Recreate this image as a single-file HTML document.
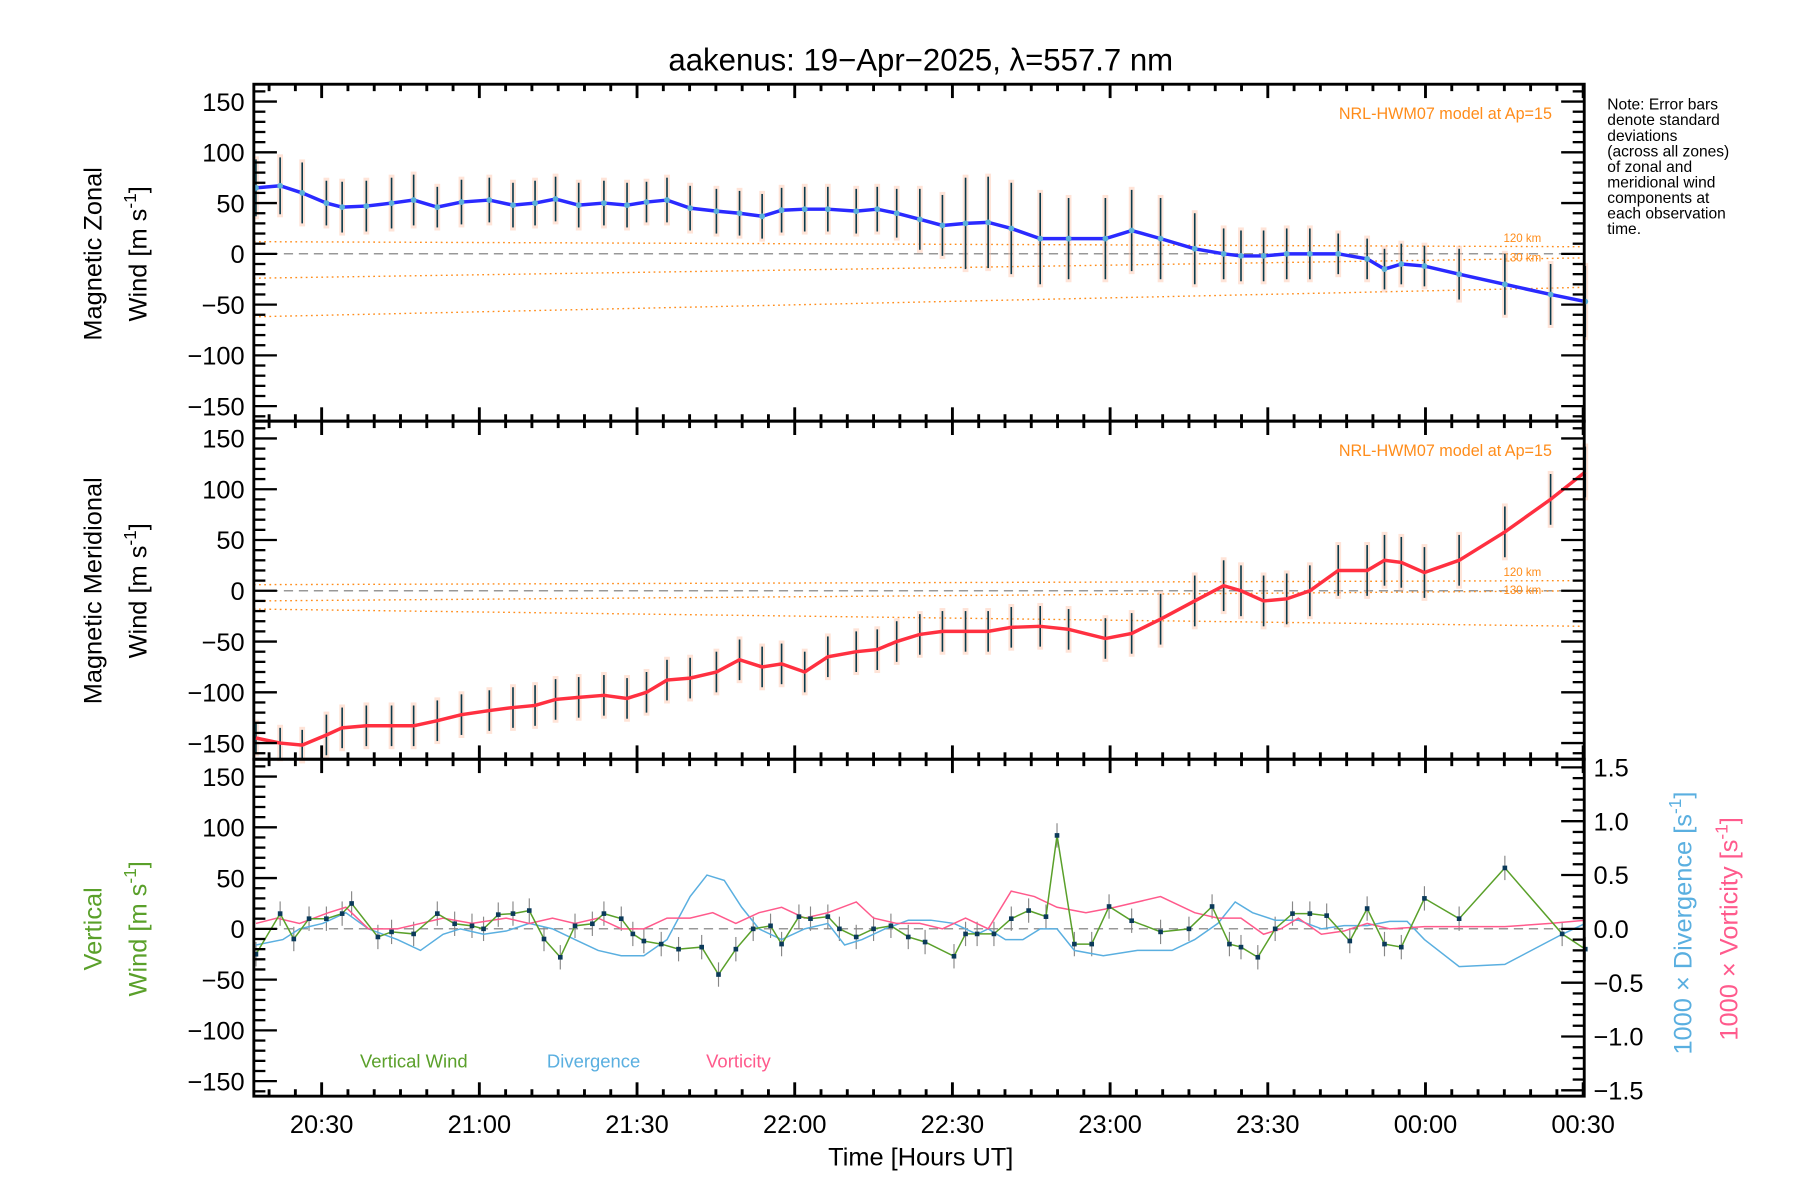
<!DOCTYPE html>
<html><head><meta charset="utf-8"><style>
html,body{margin:0;padding:0;background:#fff;}
svg{display:block;font-family:"Liberation Sans",sans-serif;}
</style></head><body>
<svg id="chart" width="1800" height="1200" viewBox="0 0 1560 1040" xmlns="http://www.w3.org/2000/svg">
<rect width="1560" height="1040" fill="#fff"/>
<text x="798" y="61" font-size="27" text-anchor="middle">aakenus: 19−Apr−2025, λ=557.7 nm</text>
<g id="marks"></g>
<g font-size="13.5">
<text x="1393" y="95">Note: Error bars</text>
<text x="1393" y="108.5">denote standard</text>
<text x="1393" y="122">deviations</text>
<text x="1393" y="135.5">(across all zones)</text>
<text x="1393" y="149">of zonal and</text>
<text x="1393" y="162.5">meridional wind</text>
<text x="1393" y="176">components at</text>
<text x="1393" y="189.5">each observation</text>
<text x="1393" y="203">time.</text>
</g>
<text transform="translate(88,220) rotate(-90)" font-size="22" text-anchor="middle">Magnetic Zonal</text>
<text transform="translate(127,220) rotate(-90)" font-size="22" text-anchor="middle">Wind [m s<tspan dy="-9" font-size="15">-1</tspan><tspan dy="9">]</tspan></text>
<text transform="translate(88,512) rotate(-90)" font-size="22" text-anchor="middle">Magnetic Meridional</text>
<text transform="translate(127,512) rotate(-90)" font-size="22" text-anchor="middle">Wind [m s<tspan dy="-9" font-size="15">-1</tspan><tspan dy="9">]</tspan></text>
<text transform="translate(88,805) rotate(-90)" font-size="22" text-anchor="middle" fill="#5aa02a">Vertical</text>
<text transform="translate(127,805) rotate(-90)" font-size="22" text-anchor="middle" fill="#5aa02a">Wind [m s<tspan dy="-9" font-size="15">-1</tspan><tspan dy="9">]</tspan></text>
<text transform="translate(1466,800) rotate(-90)" font-size="22" text-anchor="middle" fill="#5aafe0">1000 × Divergence [s<tspan dy="-9" font-size="15">-1</tspan><tspan dy="9">]</tspan></text>
<text transform="translate(1506,805) rotate(-90)" font-size="22" text-anchor="middle" fill="#ff5a8c">1000 × Vorticity [s<tspan dy="-9" font-size="15">-1</tspan><tspan dy="9">]</tspan></text>
<text x="798" y="1010" font-size="22" text-anchor="middle">Time [Hours UT]</text>
<text x="312" y="925" font-size="16" fill="#5aa02a">Vertical Wind</text>
<text x="474" y="925" font-size="16" fill="#5aafe0">Divergence</text>
<text x="612" y="925" font-size="16" fill="#ff5a8c">Vorticity</text>
</svg>
<script>
// ---- data (time = minutes since 20:00 UT) ----
const windTimes=[17.5,22.1,26.3,30.9,33.9,38.5,43.3,47.5,52.0,56.6,61.9,66.4,70.6,74.5,78.9,83.7,88.1,91.8,95.7,100.1,105.1,109.5,113.8,117.5,121.9,126.3,131.7,135.7,139.4,143.8,148.1,152.5,156.8,161.2,166.7,172.1,179.1,184.1,189.6,196.1,201.6,204.9,209.2,213.6,218.0,223.4,228.9,232.2,235.4,239.8,246.4,255.1,263.8,270.4];
const zonalValues=[65,67,60,50,46,47,50,53,46,51,53,48,50,54,48,50,48,51,53,45,42,40,37,43,44,44,42,44,40,34,28,30,31,25,15,15,15,23,15,5,0,-2,-2,0,0,0,-5,-15,-10,-12,-20,-30,-40,-47];
const meridValues=[-145,-150,-152,-142,-135,-133,-133,-133,-128,-122,-118,-115,-113,-107,-105,-103,-106,-100,-88,-86,-80,-68,-75,-72,-80,-65,-60,-58,-50,-43,-40,-40,-40,-36,-35,-38,-47,-42,-28,-10,5,0,-10,-8,0,20,20,30,28,18,30,58,90,117];
const zonalErr=[28,28,30,22,25,25,25,25,20,22,22,22,22,22,22,22,22,20,22,22,22,22,22,22,22,22,22,22,24,30,30,45,45,45,45,40,40,40,40,35,25,25,25,25,25,20,20,20,20,20,25,30,30,35];
const meridErr=[15,15,15,20,20,20,20,20,20,20,20,20,20,20,20,20,20,20,20,20,20,20,20,20,20,20,20,20,20,20,20,20,20,20,20,20,20,20,25,25,25,25,25,25,25,25,25,25,25,25,25,25,25,25];
const vertTimes=[17.5,22.1,24.7,27.6,30.9,33.9,35.7,40.7,43.3,47.5,52.0,55.3,58.6,60.8,63.6,66.4,69.5,72.3,75.4,78.2,81.5,83.7,87.0,89.2,91.3,94.6,97.9,102.3,105.5,108.8,112.1,115.4,117.5,120.8,123.0,126.3,128.5,131.7,135.0,138.3,141.6,144.8,150.3,152.5,154.7,157.9,161.2,164.5,167.8,169.9,173.2,176.5,179.8,184.1,189.6,195.0,199.4,202.7,204.9,208.1,211.4,214.7,218.0,221.2,225.6,228.9,232.2,235.4,239.8,246.4,255.1,266.0,270.4];
const vertValues=[-25,15,-10,10,10,15,25,-8,-3,-5,15,5,3,0,14,15,18,-10,-28,3,5,15,10,-5,-12,-15,-20,-18,-45,-20,0,3,-15,12,10,12,0,-8,0,3,-8,-13,-27,-5,-5,-5,10,18,12,92,-15,-15,22,8,-3,0,22,-15,-18,-28,0,15,15,13,-12,20,-15,-18,30,10,60,-5,-20];
const divTimes=[17.5,22.6,25.8,30.2,34.6,38.9,44.4,48.8,53.1,56.4,60.8,65.1,69.5,73.9,78.2,82.6,87.0,91.3,95.7,100.1,103.3,106.6,109.9,113.2,117.5,121.9,126.3,129.5,132.8,137.2,141.6,145.9,150.3,154.7,156.8,160.1,163.4,166.7,169.9,173.2,178.7,185.2,191.8,196.1,200.5,203.8,207.1,211.4,215.8,220.2,224.5,228.9,233.2,236.5,239.8,246.4,255.1,266.0,270.4];
const divValues=[-0.15,-0.1,0.0,0.05,0.15,0.0,-0.1,-0.2,-0.05,0.0,-0.05,-0.02,0.05,0.0,-0.1,-0.2,-0.25,-0.25,-0.1,0.3,0.5,0.45,0.2,0.0,-0.1,0.0,0.05,-0.15,-0.1,0.0,0.08,0.08,0.05,-0.05,0.0,-0.1,-0.1,0.0,0.0,-0.2,-0.25,-0.2,-0.2,-0.1,0.05,0.25,0.15,0.08,0.08,0.0,0.03,0.03,0.07,0.07,-0.1,-0.35,-0.33,-0.05,0.05];
const vortTimes=[17.5,21.5,25.8,31.3,34.6,38.9,44.4,48.8,53.1,58.6,65.1,69.5,73.9,78.2,82.6,87.0,91.3,95.7,100.1,104.4,108.8,113.2,117.5,121.9,126.3,131.7,135.0,139.4,143.8,148.1,152.5,156.8,161.2,165.6,169.9,175.4,180.9,189.6,196.1,200.5,204.9,209.2,212.5,215.8,220.2,224.5,228.9,233.2,239.8,246.4,255.1,263.8,270.4];
const vortValues=[0.05,0.1,0.05,0.15,0.2,0.0,0.0,0.05,0.1,0.05,0.1,0.05,0.1,0.05,0.1,0.0,0.0,0.1,0.1,0.15,0.05,0.15,0.2,0.1,0.15,0.25,0.1,0.05,0.05,0.0,0.1,0.0,0.35,0.3,0.2,0.15,0.2,0.3,0.15,0.1,0.1,-0.05,0.0,0.1,-0.05,-0.02,0.05,0.0,0.02,0.02,0.02,0.05,0.08];
const modelZonalStart=[12,-24,-62];
const modelZonalEnd=[7,-4,-33];
const modelMeridStart=[6,-10,-18];
const modelMeridEnd=[10,0,-35];
const xTickLabels=["20:30","21:00","21:30","22:00","22:30","23:00","23:30","00:00","00:30"];
const yTickLabels=["150","100","50","0","−50","−100","−150"];
const rightTickLabels=["1.5","1.0","0.5","0.0","−0.5","−1.0","−1.5"];

// ---- layout ----
const NS="http://www.w3.org/2000/svg";
const L=220,R=1373,TMIN=17.1,TMAX=270.2;
const panels=[{top:73,bot:365},{top:365,bot:658},{top:658,bot:950}];
const Y0=[220,512,805], PXU=0.88;
const xs=t=>L+(t-TMIN)*(R-L)/(TMAX-TMIN);
const ys=(p,v)=>Y0[p]-v*PXU;
const yr=v=>805-v*93.3;
const g=document.getElementById('marks');
function mk(tag,attrs,parent){const e=document.createElementNS(NS,tag);for(const k in attrs)e.setAttribute(k,attrs[k]);(parent||g).appendChild(e);return e;}
function pts(ts,vs,f){return ts.map((t,i)=>xs(t).toFixed(1)+','+f(vs[i]).toFixed(1)).join(' ');}

for(let p=0;p<3;p++){
  const z=mk('line',{x1:L,x2:R,y1:ys(p,0),y2:ys(p,0),stroke:'#777','stroke-width':1,'stroke-dasharray':'8,5'});
  
  
}
[[0,modelZonalStart,modelZonalEnd],[1,modelMeridStart,modelMeridEnd]].forEach(([p,s,e])=>{
  s.forEach((v,i)=>{
    const l=mk('line',{x1:L,x2:R,y1:ys(p,v),y2:ys(p,e[i]),stroke:'#ff8c1a','stroke-width':1.2,'stroke-dasharray':'1.5,3'});
    
    
  });
  const lab=mk('text',{x:1345,y:panels[p].top+30,'font-size':14,fill:'#ff8c1a','text-anchor':'end'});
  lab.textContent='NRL-HWM07 model at Ap=15';
  
  
  const k1=mk('text',{x:1303,y:ys(p,e[0])-4,'font-size':10,fill:'#ff8c1a'});k1.textContent='120 km';
  
  
  const k2=mk('text',{x:1303,y:ys(p,e[1])+3,'font-size':10,fill:'#ff8c1a'});k2.textContent='130 km';
  
  
});

[[0,zonalValues,zonalErr],[1,meridValues,meridErr]].forEach(([p,vals,err])=>{
  windTimes.forEach((t,i)=>{
    const x=xs(t);
    const bg=mk('rect',{x:x-2.5,y:ys(p,vals[i]+err[i]+3),width:5,height:(2*err[i]+6)*PXU,fill:'#ffc4a8',opacity:0.45});
    
    
    const b=mk('line',{x1:x,x2:x,y1:ys(p,vals[i]+err[i]),y2:ys(p,vals[i]-err[i]),stroke:'#0b3a4a','stroke-width':1.4});
    
    
  });
});
const zl=mk('polyline',{points:pts(windTimes,zonalValues,v=>ys(0,v)),fill:'none',stroke:'#2a2aff','stroke-width':3});


const ml=mk('polyline',{points:pts(windTimes,meridValues,v=>ys(1,v)),fill:'none',stroke:'#ff3040','stroke-width':3});


windTimes.forEach((t,i)=>{
  const c=mk('circle',{cx:xs(t),cy:ys(0,zonalValues[i]),r:2.5,fill:'#5ab0d8'});
  
  
});

vertTimes.forEach((t,i)=>{
  const b=mk('line',{x1:xs(t),x2:xs(t),y1:ys(2,vertValues[i]+12),y2:ys(2,vertValues[i]-12),stroke:'#888','stroke-width':1});
  
  
});
const dl=mk('polyline',{points:pts(divTimes,divValues,yr),fill:'none',stroke:'#5aafe0','stroke-width':1.3});


const vl=mk('polyline',{points:pts(vortTimes,vortValues,yr),fill:'none',stroke:'#ff5a8c','stroke-width':1.3});


const wl=mk('polyline',{points:pts(vertTimes,vertValues,v=>ys(2,v)),fill:'none',stroke:'#5aa02a','stroke-width':1.3});


vertTimes.forEach((t,i)=>{
  const r=mk('rect',{x:xs(t)-2,y:ys(2,vertValues[i])-2,width:4,height:4,fill:'#0b3a5a'});
  
  
});

panels.forEach((pn,p)=>{
  const f=mk('rect',{x:L,y:pn.top,width:R-L,height:pn.bot-pn.top,fill:'none',stroke:'#000','stroke-width':2.5});
  
  
  for(let v=-160;v<=160;v+=10){
    const y=ys(p,v); if(y<pn.top||y>pn.bot)continue;
    const len=v%50===0?20:10;
    mk('line',{x1:L,x2:L+len,y1:y,y2:y,stroke:'#000','stroke-width':2});
    if(p<2) mk('line',{x1:R,x2:R-len,y1:y,y2:y,stroke:'#000','stroke-width':2});
  }
  for(let t=20;t<=270;t+=5){
    const x=xs(t); if(x<L||x>R)continue;
    const len=t%30===0?12:6;
    mk('line',{x1:x,x2:x,y1:pn.top,y2:pn.top+len,stroke:'#000','stroke-width':2.5});
    mk('line',{x1:x,x2:x,y1:pn.bot,y2:pn.bot-len,stroke:'#000','stroke-width':2.5});
  }
  yTickLabels.forEach((s,i)=>{
    const tx=mk('text',{x:212,y:ys(p,150-50*i)+8,'font-size':22,'text-anchor':'end'});tx.textContent=s;
    
    
  });
});
for(let k=-15;k<=15;k++){
  const v=k/10,y=yr(v);
  const len=k%5===0?20:10;
  mk('line',{x1:R,x2:R-len,y1:y,y2:y,stroke:'#000','stroke-width':2});
}
rightTickLabels.forEach((s,i)=>{
  const tx=mk('text',{x:1381,y:yr(1.5-0.5*i)+8,'font-size':22});tx.textContent=s;
  
  
});
xTickLabels.forEach((s,i)=>{
  const tx=mk('text',{x:xs(30+30*i),y:982,'font-size':22,'text-anchor':'middle'});tx.textContent=s;
  
  
});
</script>
</body></html>
